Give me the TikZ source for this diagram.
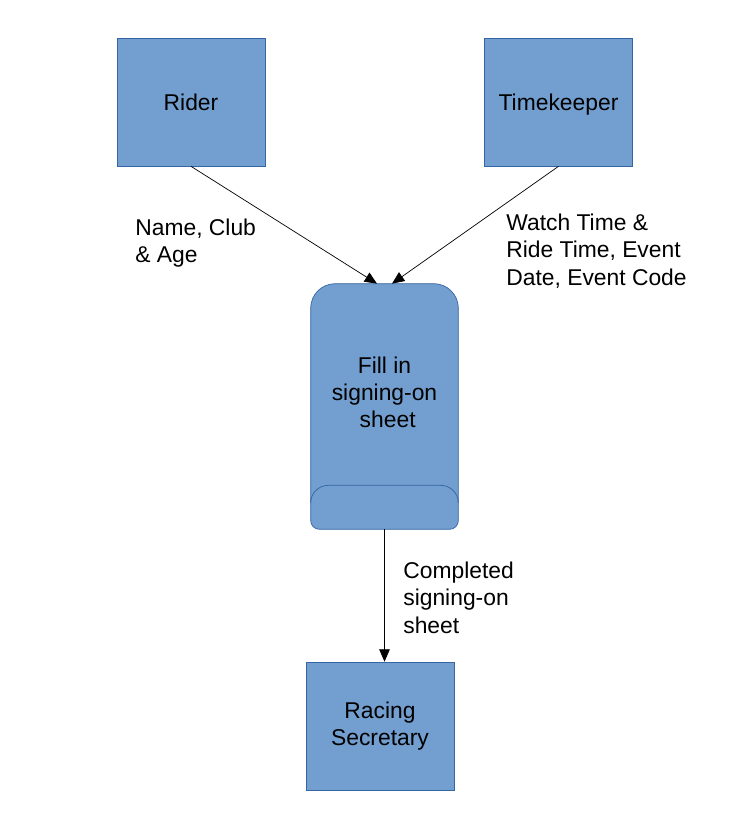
\documentclass[tikz,border=0pt]{standalone}
\usepackage{fontspec}
\setmainfont{Liberation Sans}
\usepackage{xcolor}
\usetikzlibrary{arrows.meta, positioning}

\definecolor{boxblue}{HTML}{729FCF}
\definecolor{boxline}{HTML}{3465A4}

\begin{document}
\begin{tikzpicture}[
    x=0.02cm, y=-0.02cm,
    every node/.style={font=\fontsize{13}{15.4}\selectfont},
    box/.style={rectangle, draw=boxline, fill=boxblue, minimum width=2.96cm, minimum height=2.56cm, inner sep=0pt, align=center},
    oneline/.style={text depth=0pt},
    procbox/.style={rectangle, minimum width=2.94cm, minimum height=4.9cm, inner sep=0pt},
    flowlabel/.style={align=left, anchor=north west, inner sep=0pt},
    arrow/.style={-{Triangle[length=7pt,width=6pt]}, thin}
]
\useasboundingbox (0,0) rectangle (736,827);

% External entities
\node[box, oneline] (rider) at (191,102) {Rider};
\node[box, oneline] (timekeeper) at (558.5,102) {Timekeeper};
\node[box] (secretary) at (380,726) {Racing\\Secretary};

% Process
\node[procbox] (fillin) at (384.5,406.5) {};
\draw[draw=boxline, fill=boxblue]
    (fillin.south) [rounded corners=5pt] -| (fillin.west)
    [rounded corners=14pt] |- (fillin.north) -| (fillin.east)
    [rounded corners=5pt] |- (fillin.south);
\draw[draw=boxline, rounded corners=10pt]
    ([yshift=0.6cm]fillin.south west) -- ([yshift=0.88cm]fillin.south west)
    -- ([yshift=0.88cm]fillin.south east) -- ([yshift=0.6cm]fillin.south east);
\node[align=center] (filltext) at (384.5,392) {Fill in\\signing-on\\\ sheet};

% Data flows
\draw[arrow] (rider.south) -- ([xshift=-0.15cm]fillin.north);
\draw[arrow] (timekeeper.south) -- ([xshift=0.15cm]fillin.north);
\draw[arrow] (fillin.south) -- (fillin.south |- secretary.north);

% Labels
\node[flowlabel] (riderdata) at (135,219) {Name, Club\\\& Age};
\node[flowlabel] (timedata) at (506,214) {Watch Time \&\\Ride Time, Event\\Date, Event Code};
\node[flowlabel] (sheetdata) at (403,562) {Completed\\signing-on\\sheet};

\end{tikzpicture}
\end{document}
